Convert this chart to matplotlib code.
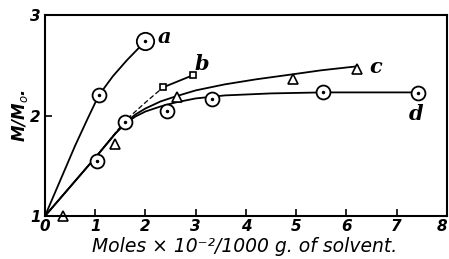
import matplotlib
matplotlib.use('Agg')
import matplotlib.pyplot as plt

# measured points
a_x = [1.07, 2.0]
a_y = [2.2, 2.74]
b_x = [2.35, 2.94]
b_y = [2.28, 2.4]
c_x = [0.35, 1.4, 2.62, 4.93, 6.22]
c_y = [1.0, 1.72, 2.18, 2.36, 2.46]
d_x = [1.04, 1.6, 2.42, 3.33, 5.53, 7.42]
d_y = [1.55, 1.94, 2.04, 2.16, 2.23, 2.22]

# drawn curves
ca_x = [0, 0.3, 0.6, 0.85, 1.07, 1.35, 1.63, 2.0]
ca_y = [1, 1.35, 1.7, 1.97, 2.2, 2.39, 2.55, 2.74]
cb_dash_x = [0, 1.0, 1.6, 2.0, 2.35]
cb_dash_y = [1, 1.58, 1.95, 2.13, 2.28]
cc_x = [0, 0.5, 1.0, 1.4, 1.6, 1.8, 2.0, 2.3, 2.6, 3.0, 3.58, 4.2, 4.93, 5.5, 6.22]
cc_y = [1, 1.29, 1.58, 1.82, 1.93, 2.01, 2.07, 2.14, 2.19, 2.25, 2.31, 2.36, 2.41, 2.45, 2.49]
cd_x = [0, 0.5, 1.0, 1.4, 1.6, 1.8, 2.0, 2.3, 2.6, 3.0, 3.58, 4.5, 5.53, 7.42]
cd_y = [1, 1.29, 1.58, 1.82, 1.92, 1.99, 2.04, 2.09, 2.13, 2.17, 2.2, 2.22, 2.23, 2.23]

fig = plt.figure(figsize=(4.49, 2.59), dpi=100)
ax = fig.add_axes([0.1002, 0.166, 0.895, 0.776])

lw = 1.3
ax.plot(ca_x, ca_y, color='black', lw=lw)
ax.plot(cb_dash_x, cb_dash_y, color='black', lw=0.9, ls=(0, (4, 2)))
ax.plot(b_x, b_y, color='black', lw=lw)
ax.plot(cc_x, cc_y, color='black', lw=lw)
ax.plot(cd_x, cd_y, color='black', lw=lw)

circ = dict(marker='o', mfc='white', mec='black', mew=1.3, ls='none')
ax.plot(a_x[:1], a_y[:1], ms=10, **circ)
ax.plot(a_x[1:], a_y[1:], ms=12.5, **circ)
ax.plot(d_x, d_y, ms=10, **circ)
ax.plot(a_x + d_x, a_y + d_y, marker='o', ms=1.5, color='black', ls='none')
ax.plot(b_x, b_y, marker='s', ms=4.5, mfc='white', mec='black', mew=1.2, ls='none')
ax.plot(c_x, c_y, marker='^', ms=6.5, mfc='white', mec='black', mew=1.2, ls='none',
        clip_on=False)

lab = dict(fontsize=15, style='italic', fontweight='bold', family='DejaVu Serif')
ax.text(2.25, 2.72, 'a', **lab)
ax.text(2.98, 2.45, 'b', **lab)
ax.text(6.45, 2.42, 'c', **lab)
ax.text(7.25, 1.96, 'd', **lab)

ax.set_xlim(0, 8)
ax.set_ylim(1, 3)
ax.set_xticks(range(0, 9))
ax.set_yticks([1, 2, 3])
ax.tick_params(direction='in', length=5, width=1.2, labelsize=11)
ax.tick_params(axis='x', pad=2)
ax.tick_params(axis='y', pad=3)
for t in ax.get_xticklabels() + ax.get_yticklabels():
    t.set_style('italic')
    t.set_fontweight('bold')
ax.get_xticklabels()[-1].set_ha('right')
for s in ax.spines.values():
    s.set_linewidth(1.5)

fig.text(0.545, 0.012, 'Moles × 10⁻²/1000 g. of solvent.', fontsize=13.5,
         style='italic', ha='center', va='bottom')
ax.set_ylabel(r'M/M$_o$.', fontsize=12, style='italic', fontweight='bold',
              labelpad=0)

fig.savefig('out.png', dpi=100)
